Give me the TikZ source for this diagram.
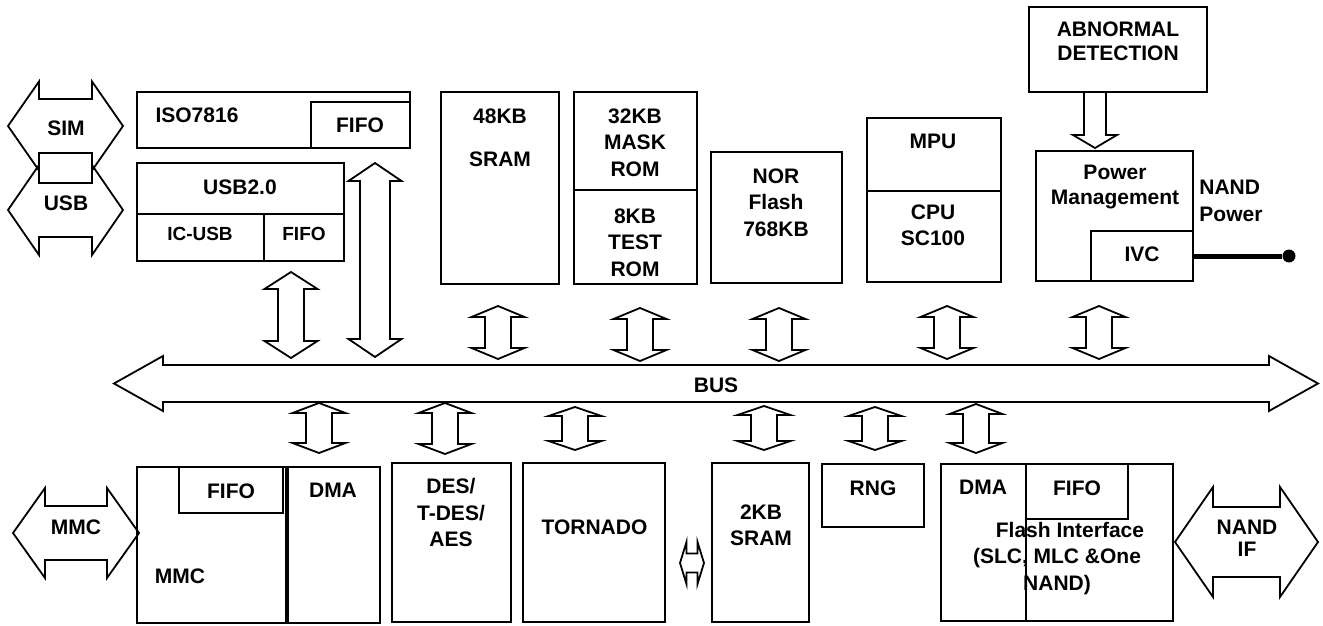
\documentclass[tikz,border=0pt]{standalone}
\usepackage{fontspec}
\setmainfont{Liberation Sans}
\usetikzlibrary{fit}

% fat vertical double arrow: x, top tip, bottom tip, head length, shaft half width
\newcommand{\vbusarrow}[5]{%
  \draw[fat] (#1,#2) -- ({#1+26.5},{#2+#4}) -- ({#1+#5},{#2+#4}) -- ({#1+#5},{#3-#4})
    -- ({#1+26.5},{#3-#4}) -- (#1,#3) -- ({#1-26.5},{#3-#4}) -- ({#1-#5},{#3-#4})
    -- ({#1-#5},{#2+#4}) -- ({#1-26.5},{#2+#4}) -- cycle;}
% fat horizontal double arrow: y, left tip, right tip, head length, shaft half, head half
\newcommand{\hbusarrow}[6]{%
  \draw[fat] (#2,#1) -- ({#2+#4},{#1-#6}) -- ({#2+#4},{#1-#5}) -- ({#3-#4},{#1-#5})
    -- ({#3-#4},{#1-#6}) -- (#3,#1) -- ({#3-#4},{#1+#6}) -- ({#3-#4},{#1+#5})
    -- ({#2+#4},{#1+#5}) -- ({#2+#4},{#1+#6}) -- cycle;}

\begin{document}
\begin{tikzpicture}[
  x=0.5pt, y=-0.5pt,
  box/.style={draw, line width=0.85pt, inner sep=0pt},
  dmabox/.style={draw, line width=1.4pt, inner sep=0pt},
  fat/.style={draw, line width=0.9pt, line join=miter},
  txt/.style={font=\fontsize{10.5pt}{13.3pt}\selectfont\bfseries, inner sep=0pt, anchor=north, align=center},
  smalltxt/.style={txt, font=\fontsize{9.5pt}{11pt}\selectfont\bfseries}
]
  \useasboundingbox (0,0) rectangle (1323,626);

  % upper blocks
  \node[box, fit={(137,92) (410,148)}] (iso) {};
  \node[box, fit={(311,102) (410,148)}] (isofifo) {};
  \node[box, fit={(137,163) (344,261)}] (usb) {};
  \node[box, fit={(137,214) (264,261)}] (icusb) {};
  \node[box, fit={(264,214) (344,261)}] (usbfifo) {};
  \node[box, fit={(441,92) (559,284)}] (sram) {};
  \node[box, fit={(574,92) (697,190)}] (maskrom) {};
  \node[box, fit={(574,190) (697,284)}] (testrom) {};
  \node[box, fit={(711,152) (842,283)}] (nor) {};
  \node[box, fit={(867,118) (1001,191)}] (mpu) {};
  \node[box, fit={(867,191) (1001,282)}] (cpu) {};
  \node[box, fit={(1029,7) (1207,92)}] (abn) {};
  \node[box, fit={(1036,151) (1193,281)}] (pm) {};
  \node[box, fit={(1091,231) (1193,281)}] (ivc) {};
  \node[circle, fill, inner sep=0pt, minimum size=6.5pt] (ndot) at (1289,256) {};

  \node[txt] (simt) at (66,120) {SIM};
  \node[txt] (usbt) at (66,195) {USB};
  \node[txt] (isot) at (197,107) {ISO7816};
  \node[txt] (isofifot) at (360,117) {FIFO};
  \node[txt] (usb2t) at (240,179) {USB2.0};
  \node[smalltxt] (icusbt) at (200,227) {IC-USB};
  \node[smalltxt] (usbfifot) at (304,227) {FIFO};
  \node[txt] (sramt) at (500,108) {48KB\\[8.2pt]SRAM};
  \node[txt] (maskromt) at (635,108) {32KB\\MASK\\ROM};
  \node[txt] (testromt) at (635,208) {8KB\\TEST\\ROM};
  \node[txt] (nort) at (776,168) {NOR\\Flash\\768KB};
  \node[txt] (mput) at (933,133.5) {MPU};
  \node[txt] (cput) at (933,204) {CPU\\SC100};
  \node[txt] (abnt) at (1118,21.7) {ABNORMAL\\[-1.6pt]DETECTION};
  \node[txt] (pmt) at (1115,165) {Power\\[-0.8pt]Management};
  \node[txt, anchor=north west, align=left] (nandpt) at (1199,180) {NAND\\Power};
  \node[txt] (ivct) at (1142,246) {IVC};

  \draw[line width=2.5pt] (ivc.east) -- (ndot);
  \draw[fat] (1084,92) -- (1084,135) -- (1073,135) -- (1095,148) -- (1117,135) -- (1106,135) -- (1106,92);

  % interface arrows
  \hbusarrow{126}{8}{123}{31}{27}{44.5}
  \hbusarrow{210}{8}{123}{31}{27}{45}

  % bus and its taps
  \hbusarrow{383.5}{114}{1318}{49}{18.5}{27.5}
  \node[txt] (bust) at (716,377) {BUS};
  \vbusarrow{291}{272}{358}{17}{13}
  \vbusarrow{375}{163}{357}{18}{15}
  \vbusarrow{498}{306}{359}{11}{13}
  \vbusarrow{640}{308}{361}{11}{13}
  \vbusarrow{779}{308}{361}{11}{13}
  \vbusarrow{947}{306}{359}{11}{13}
  \vbusarrow{1099}{306}{359}{11}{13}
  \vbusarrow{319}{403}{453}{10}{13}
  \vbusarrow{445}{403}{454}{10}{13}
  \vbusarrow{575}{407}{450}{9}{13}
  \vbusarrow{764}{406}{450}{9}{13}
  \vbusarrow{875}{407}{450}{9}{13}
  \vbusarrow{976}{404}{453}{10}{13}

  % lower blocks
  \node[box, fit={(137,467) (286,623)}] (mmc) {};
  \node[box, fit={(179,467) (283,513)}] (mmcfifo) {};
  \node[dmabox, fit={(288,467) (380,623)}] (mmcdma) {};
  \node[box, fit={(392,463) (511,622)}] (des) {};
  \node[box, fit={(523,463) (665,622)}] (tornado) {};
  \node[box, fit={(712,463) (809,622)}] (sram2) {};
  \node[box, fit={(822,464) (924,527)}] (rng) {};
  \node[box, fit={(941,464) (1173,621)}] (flash) {};
  \node[dmabox, fit={(941,464) (1026,621)}] (flashdma) {};
  \node[box, fit={(1026,464) (1128,519)}] (flashfifo) {};

  \node[txt] (mmcat) at (76,519) {MMC};
  \node[txt] (mmcfifot) at (231,483) {FIFO};
  \node[txt] (mmcdmat) at (333,483) {DMA};
  \node[txt] (mmct) at (180,568) {MMC};
  \node[txt] (dest) at (451,478) {DES/\\T-DES/\\AES};
  \node[txt] (tornadot) at (594.5,519) {TORNADO};
  \node[txt] (sram2t) at (761,504) {2KB\\SRAM};
  \node[txt] (rngt) at (873,480) {RNG};
  \node[txt] (flashdmat) at (983,480) {DMA};
  \node[txt] (flashfifot) at (1077,480) {FIFO};
  \node[txt] (flasht) at (1057,521.7) {\hspace*{13pt}Flash Interface\\(SLC, MLC \&One\\NAND)};
  \node[txt] (nandift) at (1247,520) {NAND\\[-2.5pt]IF};

  \hbusarrow{533}{13}{139}{32}{27}{45}
  \hbusarrow{563}{680}{704}{6.5}{9.5}{21}
  \hbusarrow{542}{1175}{1318}{38}{35}{55}
\end{tikzpicture}
\end{document}
